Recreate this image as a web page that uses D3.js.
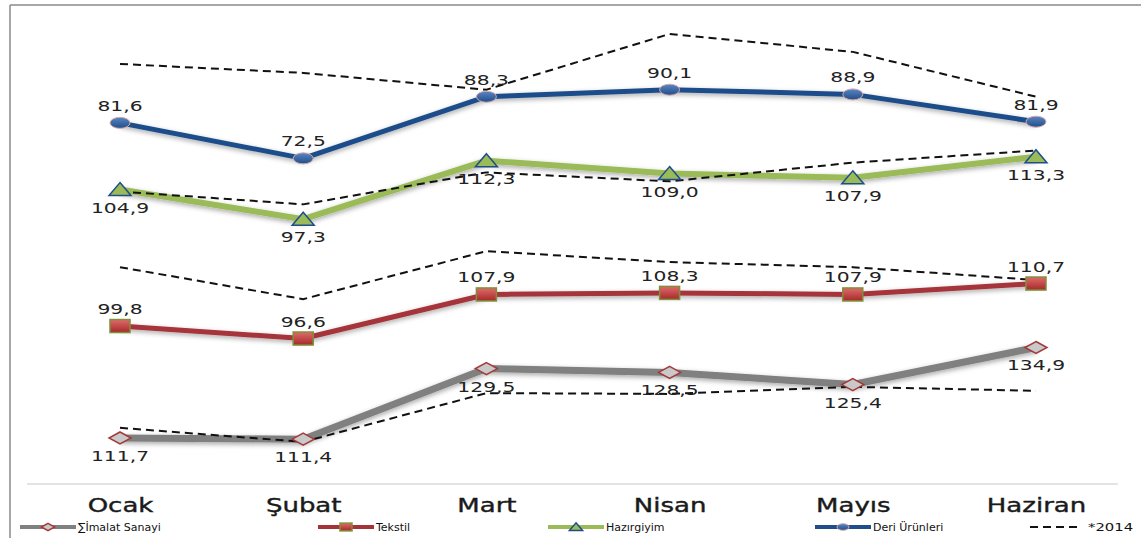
<!DOCTYPE html>
<html>
<head>
<meta charset="utf-8">
<script src="https://cdn.jsdelivr.net/npm/d3@7"></script>
<style>
  body { margin: 0; background: #fff; }
  svg { display: block; font-family: "DejaVu Sans", Verdana, sans-serif; }
</style>
</head>
<body>
<svg width="1141" height="538"></svg>
<script>
document.addEventListener("DOMContentLoaded", function () {

  var months = ["Ocak", "Şubat", "Mart", "Nisan", "Mayıs", "Haziran"]

  var imalat = [111.7, 111.4, 129.5, 128.5, 125.4, 134.9]
  var tekstil = [99.8, 96.6, 107.9, 108.3, 107.9, 110.7]
  var hazirgiyim = [104.9, 97.3, 112.3, 109.0, 107.9, 113.3]
  var deri = [81.6, 72.5, 88.3, 90.1, 88.9, 81.9]

  // 2014 values (dashed)
  var imalat2014 = [114.3, 110.7, 123.2, 123.0, 124.8, 123.8]
  var tekstil2014 = [114.9, 106.7, 119.0, 116.2, 114.9, 111.6]
  var hazirgiyim2014 = [104.4, 101.1, 109.3, 107.0, 111.8, 114.9]
  var deri2014 = [96.7, 94.4, 90.1, 104.4, 99.8, 88.3]

  // each series sits on its own axis (same unit size, different minimum)
  var seriesNames = ["∑İmalat Sanayi", "Tekstil", "Hazırgiyim", "Deri Ürünleri"]
  var axisMin = [99.9, 59.3, 29.4, -11.0]
  var axisSpan = 124.1

  var svg = d3.select("svg")

  var xScale = d3.scalePoint().domain(months).range([120, 1036])

  var series = [
    { name: seriesNames[0], values: imalat, old: imalat2014, min: axisMin[0], color: "#808080", width: 7, marker: "diamond", label: "below" },
    { name: seriesNames[1], values: tekstil, old: tekstil2014, min: axisMin[1], color: "#a5343a", width: 5, marker: "square", label: "above" },
    { name: seriesNames[2], values: hazirgiyim, old: hazirgiyim2014, min: axisMin[2], color: "#9bbb59", width: 6, marker: "triangle", label: "below" },
    { name: seriesNames[3], values: deri, old: deri2014, min: axisMin[3], color: "#1f4e8a", width: 5, marker: "circle", label: "above" }
  ]

  series.forEach(function (s) {
    s.y = d3.scaleLinear().domain([s.min, s.min + axisSpan]).range([484, 0])
  })

  var defs = svg.append("defs")
  var f = defs.append("filter").attr("id", "shadow")
    .attr("x", "-10%").attr("y", "-50%").attr("width", "120%").attr("height", "200%")
  f.append("feDropShadow").attr("dx", 0).attr("dy", 2).attr("stdDeviation", 2.5)
    .attr("flood-color", "#000").attr("flood-opacity", 0.35)

  var g1 = defs.append("linearGradient").attr("id", "blueBall").attr("x1", 0).attr("y1", 0).attr("x2", 0).attr("y2", 1)
  g1.append("stop").attr("offset", "0%").attr("stop-color", "#5a86c4")
  g1.append("stop").attr("offset", "100%").attr("stop-color", "#1f4e8a")
  var g2 = defs.append("linearGradient").attr("id", "redBox").attr("x1", 0).attr("y1", 0).attr("x2", 0).attr("y2", 1)
  g2.append("stop").attr("offset", "0%").attr("stop-color", "#e06a6a")
  g2.append("stop").attr("offset", "100%").attr("stop-color", "#a52a2a")

  // frame
  svg.append("line").attr("x1", 10).attr("y1", 5).attr("x2", 1141).attr("y2", 5)
    .attr("stroke", "#8a8a8a").attr("stroke-width", 1.5)
  svg.append("line").attr("x1", 10).attr("y1", 5).attr("x2", 10).attr("y2", 538)
    .attr("stroke", "#8a8a8a").attr("stroke-width", 1.5)

  // category axis
  var xAxis = d3.axisBottom(xScale).tickSize(0).tickPadding(0)
  var axisG = svg.append("g").attr("transform", "translate(0,484)").call(xAxis)
  axisG.select(".domain").remove()
  axisG.append("line").attr("x1", 27).attr("x2", 1118).attr("y1", 0).attr("y2", 0)
    .attr("stroke", "#c8c8c8").attr("stroke-width", 1)
  axisG.selectAll(".tick text")
    .attr("y", 0)
    .attr("dy", 0)
    .attr("transform", "translate(0,28) scale(1.3,1)")
    .attr("font-size", 20)
    .attr("font-weight", 400)
    .attr("stroke", "#1a1a1a")
    .attr("stroke-width", 0.4)
    .attr("fill", "#1a1a1a")
    .attr("font-family", "'DejaVu Sans', sans-serif")

  function drawMarker(sel, type, sx) {
    sx = sx || 1
    if (type === "circle") {
      sel.append("ellipse").attr("rx", 10 * sx).attr("ry", 5.5 * sx)
        .attr("fill", "url(#blueBall)").attr("stroke", "#d8a8a8").attr("stroke-width", 1)
    } else if (type === "square") {
      sel.append("rect").attr("x", -10 * sx).attr("y", -6.5 * sx).attr("width", 20 * sx).attr("height", 13 * sx)
        .attr("fill", "url(#redBox)").attr("stroke", "#7f8f3a").attr("stroke-width", 1.5)
    } else if (type === "triangle") {
      sel.append("path")
        .attr("d", "M0," + (-7 * sx) + "L" + (11 * sx) + "," + (6 * sx) + "L" + (-11 * sx) + "," + (6 * sx) + "Z")
        .attr("fill", "#9bbb59").attr("stroke", "#1f4e8a").attr("stroke-width", 1.5)
    } else {
      sel.append("path")
        .attr("d", "M0," + (-6 * sx) + "L" + (11 * sx) + ",0L0," + (6 * sx) + "L" + (-11 * sx) + ",0Z")
        .attr("fill", "#c9c9c9").attr("stroke", "#a33a3a").attr("stroke-width", 1.5)
    }
  }

  var chart = svg.append("g")

  series.forEach(function (s) {
    var line = d3.line()
      .x(function (d, i) { return xScale(months[i]) })
      .y(function (d) { return s.y(d) })

    chart.append("path").datum(s.values)
      .attr("d", line)
      .attr("fill", "none")
      .attr("stroke", s.color)
      .attr("stroke-width", s.width)
      .attr("stroke-linejoin", "round")
      .attr("filter", "url(#shadow)")

    chart.append("path").datum(s.old)
      .attr("d", line)
      .attr("fill", "none")
      .attr("stroke", "#111")
      .attr("stroke-width", 2)
      .attr("stroke-dasharray", "8,5")

    chart.selectAll("g.m-" + s.marker)
      .data(s.values)
      .enter()
      .append("g")
      .attr("class", "m-" + s.marker)
      .attr("transform", function (d, i) { return "translate(" + xScale(months[i]) + "," + s.y(d) + ")" })
      .each(function () { drawMarker(d3.select(this), s.marker) })

    chart.selectAll("text.l-" + s.marker)
      .data(s.values)
      .enter()
      .append("text")
      .attr("class", "l-" + s.marker)
      .attr("transform", function (d, i) {
        var dy = s.label === "above" ? -12 : 23
        return "translate(" + xScale(months[i]) + "," + (s.y(d) + dy) + ") scale(1.45,1)"
      })
      .attr("text-anchor", "middle")
      .attr("font-size", 14)
      .attr("fill", "#222")
      .text(function (d) { return d3.format(".1f")(d).replace(".", ",") })
  })

  // legend
  var legendX = [20, 318, 548, 815]
  var legend = svg.append("g").attr("transform", "translate(0,527)")
  series.forEach(function (s, i) {
    var lg = legend.append("g").attr("transform", "translate(" + legendX[i] + ",0)")
    lg.append("line").attr("x1", 0).attr("x2", 56).attr("y1", 0).attr("y2", 0)
      .attr("stroke", s.color).attr("stroke-width", 4)
    drawMarker(lg.append("g").attr("transform", "translate(28,0)"), s.marker, 0.6)
    lg.append("text").attr("x", 58).attr("y", 4)
      .attr("font-size", 11).attr("fill", "#111")
      .text(s.name)
  })
  var l5 = legend.append("g").attr("transform", "translate(1030,0)")
  l5.append("line").attr("x1", 0).attr("x2", 48).attr("y1", 0).attr("y2", 0)
    .attr("stroke", "#111").attr("stroke-width", 2).attr("stroke-dasharray", "8,5")
  l5.append("text").attr("transform", "translate(58,4) scale(1.35,1)")
    .attr("font-size", 11).attr("fill", "#111")
    .text("*2014")

});
</script>
</body>
</html>
